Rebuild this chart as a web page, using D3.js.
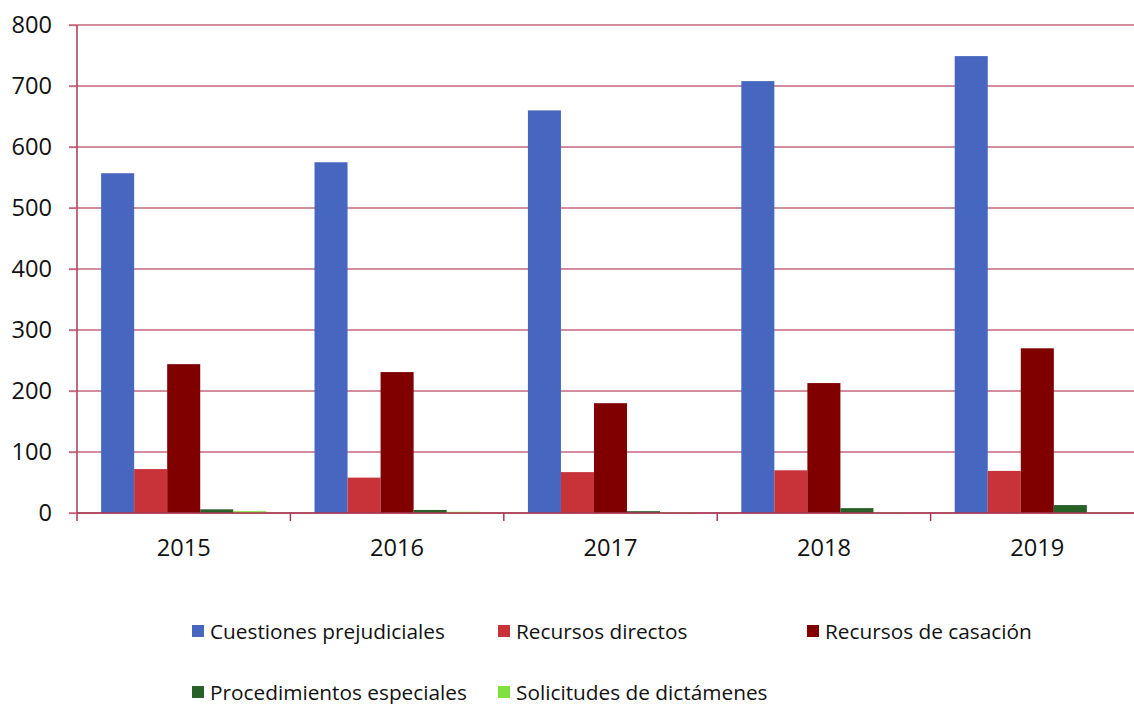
<!DOCTYPE html>
<html>
<head>
<meta charset="utf-8">
<script src="https://cdn.jsdelivr.net/npm/d3@7"></script>
<style>
  html, body { margin: 0; padding: 0; background: #fff; }
  svg { display: block; }
  svg text { font-family: "Open Sans", "Noto Sans", sans-serif; }
</style>
</head>
<body>
<svg id="chart" width="1134" height="704"></svg>
<script>
// Years shown along the x axis
const years = ["2015", "2016", "2017", "2018", "2019"];

// Series names (legend order = bar order within each year)
const seriesNames = [
  "Cuestiones prejudiciales",
  "Recursos directos",
  "Recursos de casación",
  "Procedimientos especiales",
  "Solicitudes de dictámenes"
];

// Values per series, one per year
const cuestionesPrejudiciales = [557, 575, 660, 708, 749];
const recursosDirectos        = [72, 58, 67, 70, 69];
const recursosCasacion        = [244, 231, 180, 213, 270];
const procedimientosEspeciales = [6, 5, 3, 8, 13];
const solicitudesDictamenes   = [3, 2, 1, 1, 1];

const yTicks = [0, 100, 200, 300, 400, 500, 600, 700, 800];

const seriesColors = ["#4666c0", "#c73338", "#800000", "#276128", "#80e040"];

const seriesValues = [
  cuestionesPrejudiciales,
  recursosDirectos,
  recursosCasacion,
  procedimientosEspeciales,
  solicitudesDictamenes
];

const FONT = '"Open Sans", "Noto Sans", sans-serif';
const AXIS_FONT_SIZE = "23.6px";
const LEGEND_FONT_SIZE = "20.8px";

const svg = d3.select("#chart");
const plotLeft = 77, plotRight = 1144, plotTop = 25, plotBottom = 513;

const x = d3.scaleBand().domain(years).range([plotLeft, plotRight]).paddingInner(0).paddingOuter(0);
const xInner = d3.scaleBand().domain(d3.range(seriesNames.length))
  .range([0, x.bandwidth()]).paddingInner(0).paddingOuter(0.73);
const y = d3.scaleLinear().domain([0, 800]).range([plotBottom, plotTop]);

// Horizontal grid lines
svg.append("g")
  .selectAll("line")
  .data(yTicks)
  .join("line")
  .attr("x1", plotLeft - 8)
  .attr("x2", plotRight)
  .attr("y1", d => y(d))
  .attr("y2", d => y(d))
  .attr("stroke", "#c5677d")
  .attr("stroke-width", 1.3);

// Bars
const groups = svg.append("g")
  .selectAll("g")
  .data(years)
  .join("g")
  .attr("transform", d => `translate(${x(d)},0)`);

groups.selectAll("rect")
  .data((yr, i) => seriesValues.map((vals, s) => ({ s, v: vals[i] })))
  .join("rect")
  .attr("x", d => xInner(d.s))
  .attr("width", xInner.bandwidth())
  .attr("y", d => y(d.v))
  .attr("height", d => y(0) - y(d.v))
  .attr("fill", d => seriesColors[d.s]);

// Y axis
const yAxis = svg.append("g")
  .attr("transform", `translate(${plotLeft},0)`)
  .call(d3.axisLeft(y).tickValues(yTicks).tickSize(8).tickPadding(17))
  .attr("font-family", FONT)
  .attr("font-size", AXIS_FONT_SIZE);
yAxis.select(".domain").attr("stroke", "#a63a55").attr("stroke-width", 1.5)
  .attr("d", `M0,${plotTop}V${plotBottom + 8}`);
yAxis.selectAll(".tick line").attr("stroke", "#c5677d").attr("stroke-width", 1.3);
yAxis.selectAll(".tick text").attr("fill", "#111").attr("dy", "0.3em");

// X axis baseline and category separators
const xAxis = svg.append("g").attr("transform", `translate(0,${plotBottom})`);
xAxis.append("line")
  .attr("x1", plotLeft).attr("x2", plotRight).attr("y1", 0).attr("y2", 0)
  .attr("stroke", "#a63a55").attr("stroke-width", 1.6);
xAxis.selectAll("line.sep")
  .data(years)
  .join("line")
  .attr("class", "sep")
  .attr("x1", d => x(d) + x.bandwidth())
  .attr("x2", d => x(d) + x.bandwidth())
  .attr("y1", 0).attr("y2", 8)
  .attr("stroke", "#a63a55").attr("stroke-width", 1.5);
xAxis.selectAll("text")
  .data(years)
  .join("text")
  .attr("x", d => x(d) + x.bandwidth() / 2)
  .attr("y", 43)
  .attr("text-anchor", "middle")
  .attr("fill", "#111")
  .style("font-size", AXIS_FONT_SIZE)
  .text(d => d);

// Legend
const legendPos = [
  [192, 631], [498, 631], [807, 631],
  [192, 692], [498, 692]
];
const legend = svg.append("g")
  .selectAll("g")
  .data(seriesNames)
  .join("g")
  .attr("transform", (d, i) => `translate(${legendPos[i][0]},${legendPos[i][1]})`);
legend.append("rect")
  .attr("x", 0).attr("y", -6).attr("width", 12).attr("height", 12)
  .attr("fill", (d, i) => seriesColors[i]);
legend.append("text")
  .attr("x", 18).attr("y", 0).attr("dy", "0.36em")
  .attr("fill", "#111")
  .style("font-size", LEGEND_FONT_SIZE)
  .text(d => d);
</script>
</body>
</html>
